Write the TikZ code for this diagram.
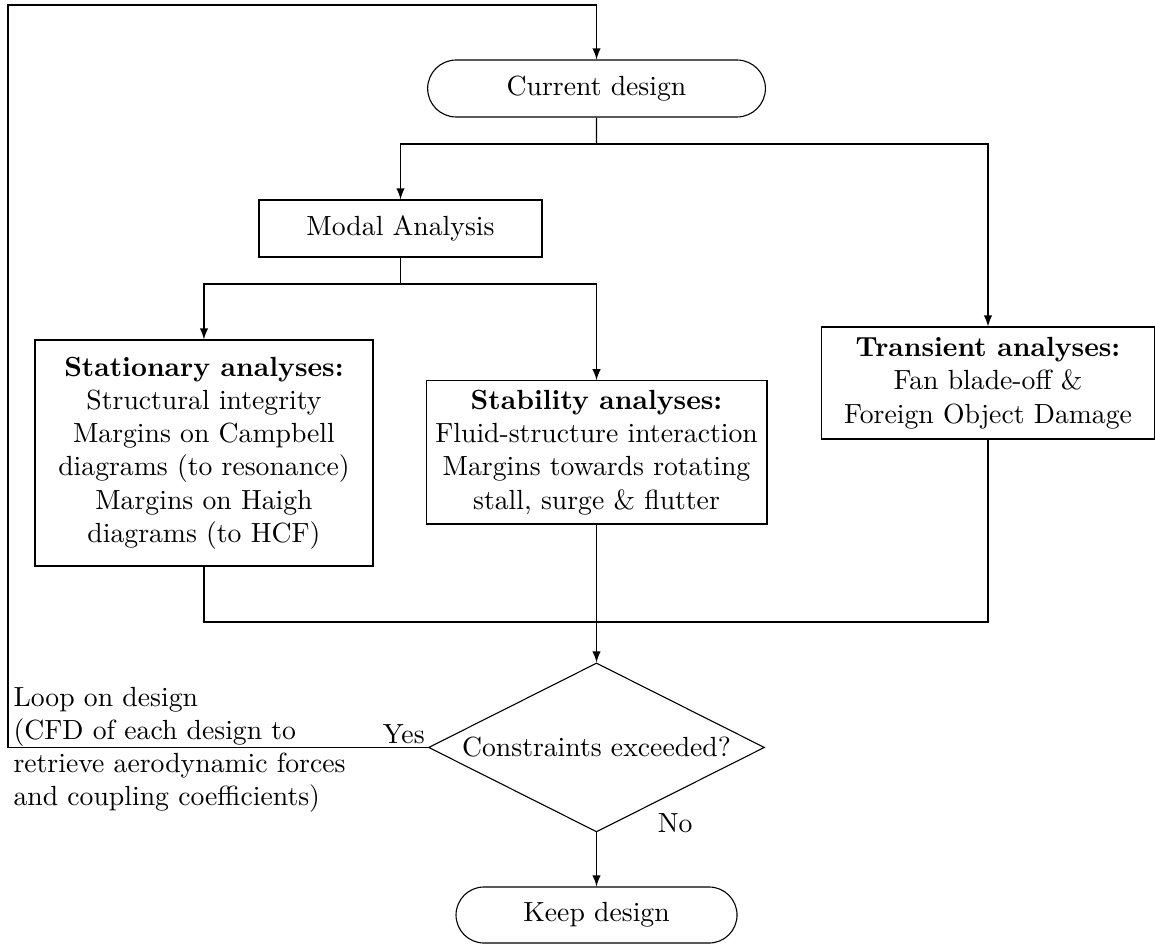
\documentclass[tikz,border=0pt]{standalone}
\usepackage{amsmath,amssymb}
\usepackage{tikz}
\usetikzlibrary{shapes.misc,shapes.geometric}

\begin{document}
\begin{tikzpicture}[
            box/.style={draw,rectangle,align=center},
            term/.style={draw,rounded rectangle,align=center},
            decision/.style={draw,diamond,aspect=2,inner sep=0pt,align=center},
            ]
            \useasboundingbox (0,0) rectangle (14.655,-11.990);
            \node[term,minimum width=4.52cm,minimum height=0.723cm] (cur) at (7.569,-1.123) {Current design};
            \node[box,minimum width=3.591cm,minimum height=0.723cm] (modal) at (5.082,-2.899) {Modal Analysis};
            \node[box,minimum width=4.225cm,minimum height=1.421cm] (trans) at (12.536,-4.860)
                {\textbf{Transient analyses:}\\Fan blade-off \&\\Foreign Object Damage};
            \node[box,minimum width=4.289cm,minimum height=2.868cm] (stat) at (2.588,-5.748)
                {\textbf{Stationary analyses:}\\Structural integrity\\Margins on Campbell\\diagrams (to resonance)\\Margins on Haigh\\diagrams (to HCF)};
            \node[box,minimum width=4.289cm,minimum height=1.789cm] (stab) at (7.569,-5.741)
                {\textbf{Stability analyses:}\\Fluid-structure interaction\\Margins towards rotating\\stall, surge \& flutter};
            \node[decision,minimum width=4.263cm,minimum height=2.144cm] (dec) at (7.569,-9.484) {Constraints exceeded?};
            \node[term,minimum width=3.80cm,minimum height=0.711cm] (keep) at (7.569,-11.610) {Keep design};
            \node[anchor=west,align=left,inner sep=0pt] (loop) at (0.165,-9.516)
                {Loop on design\\(CFD of each design to\\retrieve aerodynamic forces\\and coupling coefficients)};
            \node[anchor=south east,inner sep=1pt] (yes) at (dec.west) {Yes};
            \node[anchor=base west,xshift=0.653cm] (no) at (dec.south) {No};
            \coordinate (b1) at (7.569,-1.827);
            \coordinate (b2) at (5.082,-3.603);
            \coordinate (m) at (7.569,-7.892);
            \coordinate (corner) at (0.102,-0.063);
            \draw (cur) -- (b1);
            \draw[-latex] (b1) -| (modal.north);
            \draw[-latex] (b1) -| (trans.north);
            \draw (modal) -- (b2);
            \draw[-latex] (b2) -| (stat.north);
            \draw[-latex] (b2) -| (stab.north);
            \draw (stat.south) |- (m);
            \draw (trans.south) |- (m);
            \draw[-latex] (stab.south) -- (dec.north);
            \draw[-latex] (dec.south) -- (keep.north);
            \draw[-latex] (dec.west) -| (corner) -| (cur.north);
        \end{tikzpicture}
\end{document}
